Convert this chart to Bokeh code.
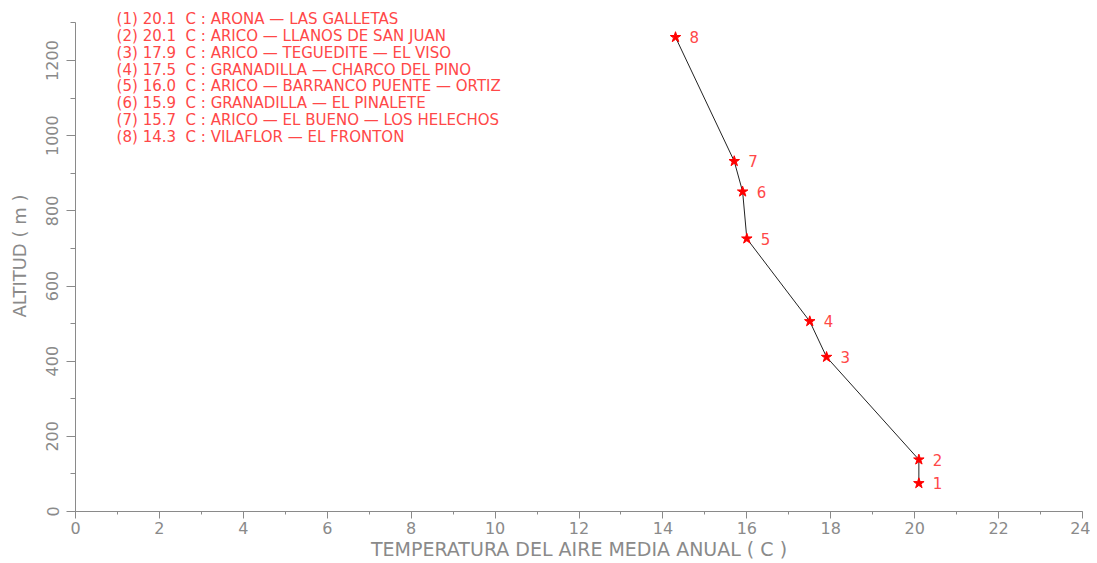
from bokeh.plotting import figure
from bokeh.models import Range1d, SingleIntervalTicker, ColumnDataSource
from bokeh.core.properties import value
from bokeh.embed import file_html
from bokeh.resources import INLINE

# ---- data ----
station_ids = ["1", "2", "3", "4", "5", "6", "7", "8"]
temperatures = [20.1, 20.1, 17.9, 17.5, 16.0, 15.9, 15.7, 14.3]
altitudes = [75, 138, 411, 506, 726, 851, 932, 1262]
station_names = [
    "ARONA \u2014 LAS GALLETAS",
    "ARICO \u2014 LLANOS DE SAN JUAN",
    "ARICO \u2014 TEGUEDITE \u2014 EL VISO",
    "GRANADILLA \u2014 CHARCO DEL PINO",
    "ARICO \u2014 BARRANCO PUENTE \u2014 ORTIZ",
    "GRANADILLA \u2014 EL PINALETE",
    "ARICO \u2014 EL BUENO \u2014 LOS HELECHOS",
    "VILAFLOR \u2014 EL FRONTON",
]
x_axis_title = "TEMPERATURA DEL AIRE MEDIA ANUAL ( C )"
y_axis_title = "ALTITUD ( m )"

FONT = "DejaVu Sans"
RED = "#ff0000"
TXT_RED = "#ff4848"
GRAY = "#8a8a8a"

p = figure(width=1090, height=563, output_backend="svg", toolbar_location=None,
           x_range=Range1d(0, 24), y_range=Range1d(0, 1359.7),
           min_border_left=75, min_border_right=8, min_border_top=0, min_border_bottom=52)
p.outline_line_color = None
p.xgrid.visible = False
p.ygrid.visible = False
p.background_fill_color = "white"

# axes
p.xaxis.ticker = SingleIntervalTicker(interval=2, num_minor_ticks=2)
p.yaxis.ticker = SingleIntervalTicker(interval=200, num_minor_ticks=2)
p.xaxis.bounds = (0, 24)
p.yaxis.bounds = (0, 1300)
for ax in (p.xaxis[0], p.yaxis[0]):
    ax.axis_line_color = GRAY
    ax.major_tick_line_color = GRAY
    ax.minor_tick_line_color = GRAY
    ax.major_tick_in = 0
    ax.minor_tick_in = 0
    ax.major_label_text_font = FONT
    ax.major_label_text_color = GRAY
    ax.major_label_text_font_size = "16px"
    ax.axis_label_text_font = FONT
    ax.axis_label_text_color = GRAY
    ax.axis_label_text_font_style = "normal"
p.xaxis.major_tick_out = 7
p.xaxis.minor_tick_out = 3
p.yaxis.major_tick_out = 9
p.yaxis.minor_tick_out = 5
p.xaxis.major_label_standoff = 3
p.yaxis.major_label_standoff = 8
p.yaxis.major_label_orientation = "vertical"
p.xaxis.axis_label = x_axis_title
p.xaxis.axis_label_text_font_size = "19px"
p.xaxis.axis_label_standoff = 1
p.yaxis.axis_label = y_axis_title
p.yaxis.axis_label_text_font_size = "18px"
p.yaxis.axis_label_standoff = 14

# profile line and stars
src = ColumnDataSource(dict(t=temperatures, z=altitudes, n=station_ids))
p.line("t", "z", source=src, line_color="#222222", line_width=1)
p.scatter("t", "z", source=src, marker="star", size=11, fill_color=RED, line_color=RED)
p.text("t", "z", text="n", source=src, x_offset=14, text_baseline="middle",
       text_align="left", text_color=TXT_RED, text_font=value(FONT), text_font_size="15px")

# legend block (top-left)
legend_lines = ["(%s) %.1f \u00a0C : %s" % (i, t, n)
                for i, t, n in zip(station_ids, temperatures, station_names)]
leg_x0, leg_y0, leg_dy = 0.98, 1311, 45
leg_src = ColumnDataSource(dict(
    x=[leg_x0] * len(legend_lines),
    y=[leg_y0 - k * leg_dy for k in range(len(legend_lines))],
    txt=legend_lines))
p.text("x", "y", text="txt", source=leg_src, text_baseline="middle", text_align="left",
       text_color=TXT_RED, text_font=value(FONT), text_font_size="15px")

open("out.html", "w").write(file_html(p, INLINE))
